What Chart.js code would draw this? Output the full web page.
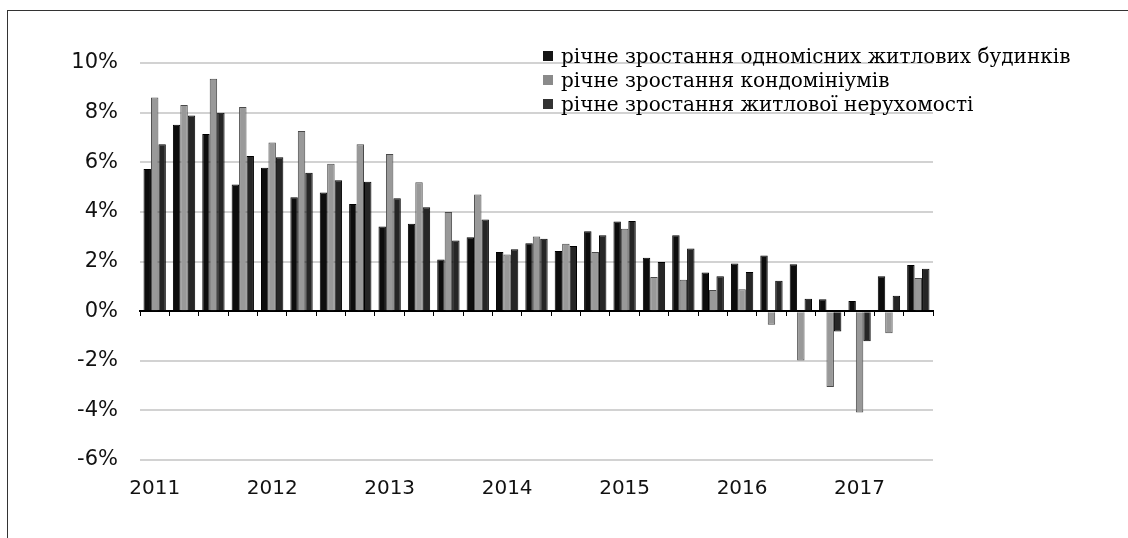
<!DOCTYPE html>
<html>
<head>
<meta charset="utf-8">
<script src="https://cdn.jsdelivr.net/npm/chart.js@4/dist/chart.umd.min.js"></script>
<style>
  html, body { margin: 0; padding: 0; background: #fff; }
  #wrap { position: relative; width: 1128px; height: 538px; overflow: hidden; }
  #frame { position: absolute; left: 7px; top: 10px; width: 1130px; height: 540px;
           border-top: 1px solid #333; border-left: 1px solid #333; box-sizing: border-box; }
  #legend { position: absolute; left: 543px; top: 44px; font-family: "DejaVu Serif", serif;
            font-size: 20px; color: #000; line-height: 24px; }
  #legend div { white-space: nowrap; }
  #legend span.sw { display: inline-block; width: 10px; height: 10px; margin-right: 8px; vertical-align: 2px; }
  canvas { position: absolute; left: 0; top: 0; }
</style>
</head>
<body>
<div id="wrap">
  <canvas id="c" width="1128" height="538"></canvas>
  <div id="frame"></div>
  <div id="legend"></div>
</div>
<script>
const quarters = [
  "2011 Q1","2011 Q2","2011 Q3","2011 Q4",
  "2012 Q1","2012 Q2","2012 Q3","2012 Q4",
  "2013 Q1","2013 Q2","2013 Q3","2013 Q4",
  "2014 Q1","2014 Q2","2014 Q3","2014 Q4",
  "2015 Q1","2015 Q2","2015 Q3","2015 Q4",
  "2016 Q1","2016 Q2","2016 Q3","2016 Q4",
  "2017 Q1","2017 Q2","2017 Q3"
];
const singleFamily = [5.73, 7.51, 7.14, 5.10, 5.78, 4.59, 4.78, 4.32, 3.41, 3.52, 2.08, 2.98, 2.38, 2.74, 2.42, 3.22, 3.61, 2.15, 3.06, 1.56, 1.92, 2.24, 1.89, 0.48, 0.41, 1.41, 1.86];
const condos       = [8.61, 8.31, 9.37, 8.23, 6.80, 7.26, 5.94, 6.73, 6.33, 5.19, 3.99, 4.70, 2.28, 3.01, 2.72, 2.38, 3.32, 1.38, 1.26, 0.85, 0.88, -0.55, -1.99, -3.06, -4.09, -0.89, 1.33];
const residential  = [6.73, 7.88, 7.99, 6.25, 6.20, 5.58, 5.27, 5.21, 4.55, 4.19, 2.85, 3.69, 2.49, 2.92, 2.62, 3.06, 3.63, 1.98, 2.52, 1.41, 1.58, 1.22, 0.50, -0.82, -1.21, 0.62, 1.71];
const seriesNames = [
  "річне зростання одномісних житлових будинків",
  "річне зростання кондомініумів",
  "річне зростання житлової нерухомості"
];
const yTicks = [-6, -4, -2, 0, 2, 4, 6, 8, 10];

const fills   = ["#0d0d0d", "#999999", "#262626"];
const borders = ["#000000", "#4a4a4a", "#000000"];
const swatches = ["#151515", "#8a8a8a", "#333333"];

const data = {
  labels: quarters,
  datasets: [singleFamily, condos, residential].map((vals, i) => ({
    label: seriesNames[i],
    data: vals,
    backgroundColor: fills[i],
    borderColor: borders[i],
    borderWidth: 1,
    barPercentage: 1.0,
    categoryPercentage: 0.76,
    xAxisID: "x"
  }))
};

const chart = new Chart(document.getElementById("c"), {
  type: "bar",
  data,
  options: {
    responsive: false,
    animation: false,
    devicePixelRatio: 1,
    layout: { padding: { left: 0, right: 195, top: 63, bottom: 38 } },
    plugins: { legend: { display: false }, tooltip: { enabled: false } },
    scales: {
      x: {
        type: "category",
        position: "bottom",
        offset: true,
        grid: { display: false, drawTicks: false },
        border: { display: false },
        ticks: {
          autoSkip: false, maxRotation: 0, padding: 17,
          color: "#111",
          font: { family: "DejaVu Sans", size: 20 },
          callback: function(v, i) { const l = quarters[i]; return l.endsWith("Q1") ? l.slice(0, 4) : ""; }
        },
        afterFit: s => { s.height = 40; }
      },
      x2: {
        type: "category",
        labels: quarters,
        position: { y: 0 },
        offset: true,
        grid: { offset: true, drawOnChartArea: false, drawTicks: true, tickLength: 4, color: "#000", lineWidth: 1 },
        border: { display: true, color: "#000", width: 2 },
        ticks: { display: false }
      },
      y: {
        min: -6, max: 10,
        afterBuildTicks: s => { s.ticks = yTicks.map(v => ({ value: v })); },
        grid: {
          drawTicks: false,
          color: ctx => ctx.tick && ctx.tick.value === 0 ? "rgba(0,0,0,0)" : "#d2d2d2",
          lineWidth: 2
        },
        border: { display: false },
        ticks: {
          padding: 22, color: "#111",
          font: { family: "DejaVu Sans", size: 21 },
          callback: v => v + "%"
        },
        afterFit: s => { s.width = 140; }
      }
    }
  }
});

const lg = document.getElementById("legend");
chart.data.datasets.forEach((ds, i) => {
  const d = document.createElement("div");
  const sw = document.createElement("span");
  sw.className = "sw";
  sw.style.background = swatches[i];
  d.appendChild(sw);
  d.appendChild(document.createTextNode(ds.label));
  lg.appendChild(d);
});
</script>
</body>
</html>
